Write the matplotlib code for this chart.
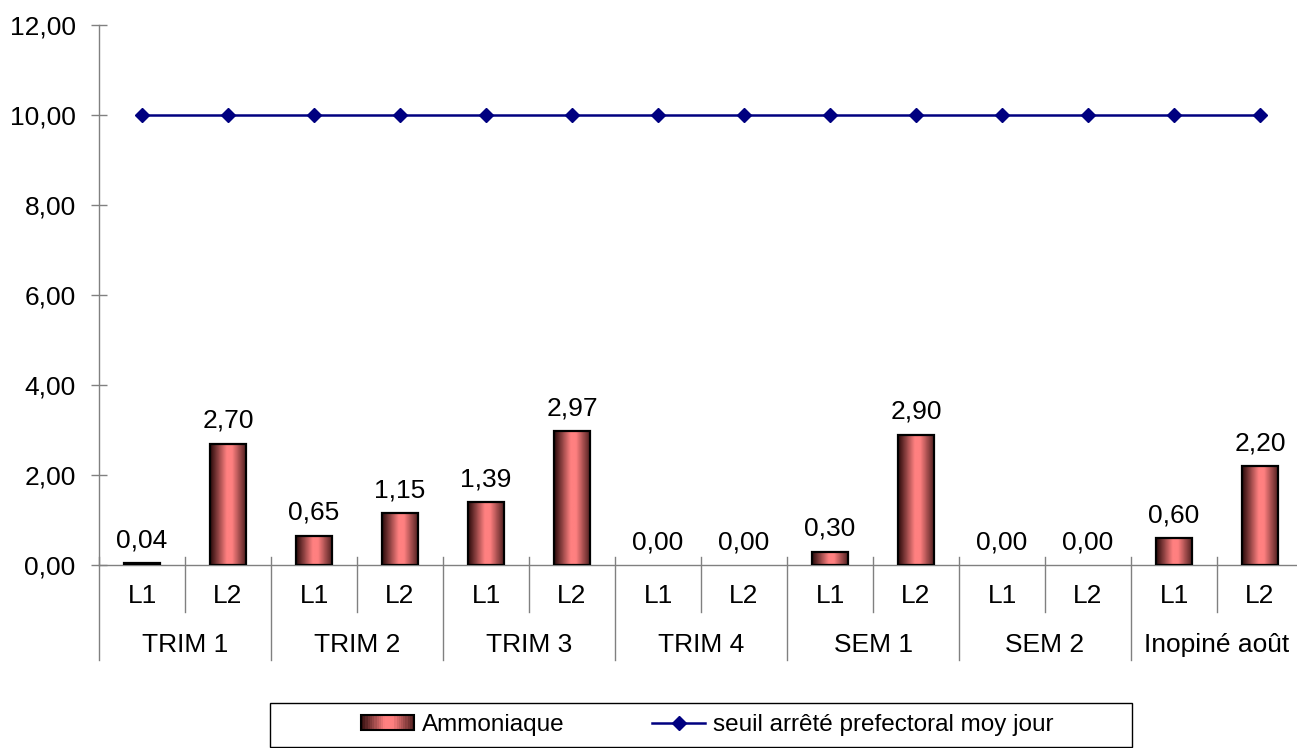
import matplotlib
matplotlib.use("Agg")
import matplotlib.pyplot as plt
import numpy as np
from matplotlib.colors import LinearSegmentedColormap
from matplotlib.patches import Rectangle
from matplotlib.legend_handler import HandlerBase
from matplotlib.ticker import FuncFormatter

plt.rcParams['font.family'] = ['Liberation Sans', 'DejaVu Sans']

# data
groups = ["TRIM 1", "TRIM 2", "TRIM 3", "TRIM 4", "SEM 1", "SEM 2", "Inopiné août"]
sub_labels = ["L1", "L2"]
ammoniaque = [0.04, 2.70, 0.65, 1.15, 1.39, 2.97, 0.00, 0.00, 0.30, 2.90, 0.00, 0.00, 0.60, 2.20]
seuil = [10.0] * 14

fs = 19
fs_leg = 17.5
bar_w = 0.42
grad = LinearSegmentedColormap.from_list(
    "bar", [(0, "#2a0a0a"), (0.45, "#ff8080"), (0.6, "#ff8080"), (1, "#4a1c1c")])
gimg = np.linspace(0, 1, 64).reshape(1, -1)


class GradHandler(HandlerBase):
    def create_artists(self, legend, orig, xd, yd, w, h, fontsize, trans):
        arts = []
        n = 24
        for k in range(n):
            r = Rectangle((-xd + w * k / n, -yd), w / n + 0.3, h,
                          facecolor=grad((k + 0.5) / n), edgecolor='none', transform=trans)
            arts.append(r)
        arts.append(Rectangle((-xd, -yd), w, h, facecolor='none', edgecolor='black',
                              lw=1.5, transform=trans))
        return arts


fig = plt.figure(figsize=(12.97, 7.48), dpi=100)
ax = fig.add_axes([99 / 1297, 1 - 565 / 748, 1204 / 1297, 540 / 748])

x = np.arange(len(ammoniaque))
for xi, v in zip(x, ammoniaque):
    if v > 0:
        ax.imshow(gimg, cmap=grad, aspect='auto', extent=[xi - bar_w / 2, xi + bar_w / 2, 0, v],
                  zorder=2, interpolation='bilinear')
        ax.add_patch(Rectangle((xi - bar_w / 2, 0), bar_w, v, facecolor='none',
                               edgecolor='black', lw=1.6, zorder=3))
    ax.annotate(f"{v:.2f}".replace('.', ','), (xi, v), xytext=(0, 11.5),
                textcoords='offset points', ha='center', va='baseline', fontsize=fs)

line, = ax.plot(x, seuil, color='#000080', lw=1.8, marker='D', markersize=6.7, zorder=4)

ax.set_xlim(-0.5, 13.5)
ax.set_ylim(0, 12)
ax.set_yticks(np.arange(0, 13, 2))
ax.yaxis.set_major_formatter(FuncFormatter(lambda v, p: f"{v:.2f}".replace('.', ',')))
ax.tick_params(axis='y', direction='inout', length=11.5, width=1, color='#808080',
               labelsize=fs, pad=11)
ax.set_xticks([])
for s in ['top', 'right']:
    ax.spines[s].set_visible(False)
for s in ['left', 'bottom']:
    ax.spines[s].set_color('#808080')
    ax.spines[s].set_linewidth(1)

# multi-level category axis
tr = ax.get_xaxis_transform()
ph = 540.0
for i in range(len(ammoniaque) + 1):
    xs = i - 0.5
    low = -95 / ph if i % 2 == 0 else -47 / ph
    ax.plot([xs, xs], [8 / ph, low], color='#808080', lw=1, transform=tr, clip_on=False)
for i, xi in enumerate(x):
    ax.text(xi, -31 / ph, sub_labels[i % 2], transform=tr, ha='center', va='center', fontsize=fs)
for g, name in enumerate(groups):
    ax.text(2 * g + 0.5, -80 / ph, name, transform=tr, ha='center', va='center', fontsize=fs)

# legend
fig.patches.append(Rectangle((270 / 1297, 1 / 748), 862 / 1297, 44 / 748, transform=fig.transFigure,
                             facecolor='white', edgecolor='black', lw=1))
bar_handle = Rectangle((0, 0), 1, 1)
fig.legend([bar_handle, line], ["Ammoniaque", "seuil arrêté prefectoral moy jour"],
           handler_map={Rectangle: GradHandler()}, loc='center',
           bbox_to_anchor=(707 / 1297, 23 / 748), ncol=2, frameon=False, fontsize=fs_leg,
           handlelength=2.2, handletextpad=0.3, columnspacing=3.6, handleheight=0.6)

fig.savefig("out.png", dpi=100)
